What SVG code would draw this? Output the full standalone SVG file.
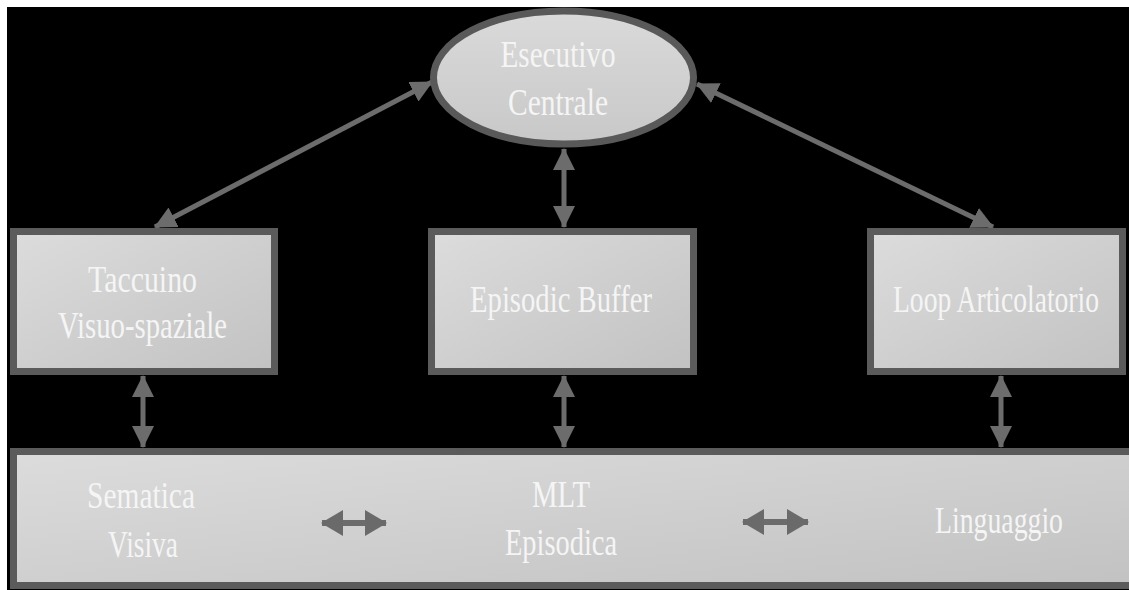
<svg xmlns="http://www.w3.org/2000/svg" width="1129" height="590" viewBox="0 0 1129 590">
<style>
.box{stroke:#5b5b5b;stroke-width:7;fill:url(#g)}
.lbl{font-family:"Liberation Serif","Times New Roman",serif;font-size:38px;fill:#f5f5f5;text-anchor:middle}
.con{stroke:#6c6c6c;fill:none}
</style>
<defs>
<linearGradient id="g" x1="0" y1="0" x2="1" y2="1">
<stop offset="0" stop-color="#dcdcdc"/>
<stop offset="1" stop-color="#c2c2c2"/>
</linearGradient>
<linearGradient id="ge" x1="0" y1="0" x2="0" y2="1">
<stop offset="0" stop-color="#dadada"/>
<stop offset="1" stop-color="#c8c8c8"/>
</linearGradient>
<marker id="ah" markerUnits="userSpaceOnUse" markerWidth="22" markerHeight="22" refX="21" refY="11" orient="auto-start-reverse" viewBox="0 0 22 22">
<path d="M0,0 L22,11 L0,22 z" fill="#6c6c6c"/>
</marker>
<marker id="ahb" markerUnits="userSpaceOnUse" markerWidth="22" markerHeight="26" refX="21" refY="13" orient="auto-start-reverse" viewBox="0 0 22 26">
<path d="M0,0 L22,13 L0,26 z" fill="#6a6a6a"/>
</marker>
</defs>
<rect width="1129" height="590" fill="#ffffff"/>
<rect x="7" y="7" width="1122" height="583" fill="#000000"/>
<g id="connectors">
<line class="con" stroke-width="5" x1="432" y1="82" x2="155" y2="227" marker-start="url(#ah)" marker-end="url(#ah)"/>
<line class="con" stroke-width="5" x1="697" y1="84" x2="993" y2="227" marker-start="url(#ah)" marker-end="url(#ah)"/>
<line class="con" stroke-width="5" x1="564" y1="149" x2="564" y2="227" marker-start="url(#ah)" marker-end="url(#ah)"/>
<line class="con" stroke-width="5" x1="143" y1="376" x2="143" y2="447" marker-start="url(#ah)" marker-end="url(#ah)"/>
<line class="con" stroke-width="5" x1="564" y1="376" x2="564" y2="447" marker-start="url(#ah)" marker-end="url(#ah)"/>
<line class="con" stroke-width="5" x1="1001" y1="376" x2="1001" y2="447" marker-start="url(#ah)" marker-end="url(#ah)"/>
</g>
<g id="esecutivo">
<ellipse cx="563.5" cy="77.5" rx="130" ry="66.5" fill="url(#ge)" stroke="#595959" stroke-width="7"/>
<text class="lbl" x="558" y="67" textLength="115" lengthAdjust="spacingAndGlyphs">Esecutivo</text>
<text class="lbl" x="558" y="115" textLength="100" lengthAdjust="spacingAndGlyphs">Centrale</text>
</g>
<g id="taccuino">
<rect class="box" x="13.5" y="231.5" width="261" height="140"/>
<text class="lbl" x="142.5" y="292" textLength="109" lengthAdjust="spacingAndGlyphs">Taccuino</text>
<text class="lbl" x="142.5" y="338" textLength="169" lengthAdjust="spacingAndGlyphs">Visuo-spaziale</text>
</g>
<g id="episodic-buffer">
<rect class="box" x="431.5" y="231.5" width="262" height="140"/>
<text class="lbl" x="561" y="312" textLength="182" lengthAdjust="spacingAndGlyphs">Episodic Buffer</text>
</g>
<g id="loop">
<rect class="box" x="870.5" y="231.5" width="252" height="140"/>
<text class="lbl" x="996" y="312" textLength="206" lengthAdjust="spacingAndGlyphs">Loop Articolatorio</text>
</g>
<g id="mlt">
<rect class="box" x="13.5" y="451.5" width="1125" height="134"/>
<text class="lbl" x="141" y="508" textLength="108" lengthAdjust="spacingAndGlyphs">Sematica</text>
<text class="lbl" x="143" y="557" textLength="70" lengthAdjust="spacingAndGlyphs">Visiva</text>
<text class="lbl" x="561" y="507" textLength="58" lengthAdjust="spacingAndGlyphs">MLT</text>
<text class="lbl" x="561" y="555" textLength="112" lengthAdjust="spacingAndGlyphs">Episodica</text>
<text class="lbl" x="999" y="533" textLength="128" lengthAdjust="spacingAndGlyphs">Linguaggio</text>
<line class="con" stroke-width="6" stroke="#6a6a6a" x1="322" y1="523" x2="386" y2="523" marker-start="url(#ahb)" marker-end="url(#ahb)"/>
<line class="con" stroke-width="6" stroke="#6a6a6a" x1="743" y1="522" x2="808" y2="522" marker-start="url(#ahb)" marker-end="url(#ahb)"/>
</g>
</svg>
